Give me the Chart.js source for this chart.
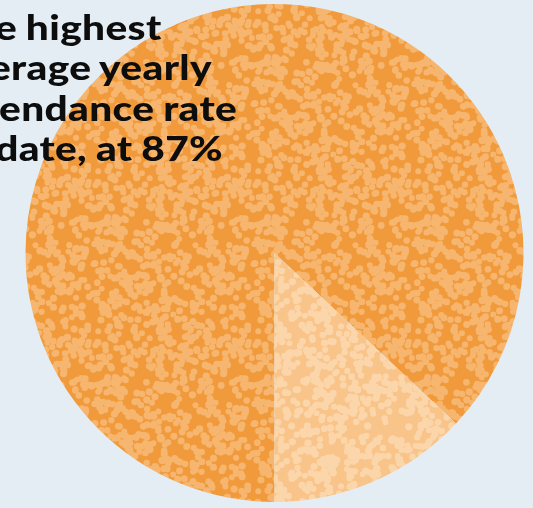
<!DOCTYPE html>
<html>
<head>
<meta charset="utf-8">
<script src="https://cdn.jsdelivr.net/npm/chart.js@4.4.1/dist/chart.umd.min.js"></script>
<style>
  html, body { margin: 0; padding: 0; background: #e3edf3; overflow: hidden; }
  #wrap { position: relative; width: 533px; height: 508px; }
  #headline {
    position: absolute; left: -40px; top: 6px;
    font-family: Lato, sans-serif; font-weight: 900; font-size: 35px;
    letter-spacing: 0.3px; word-spacing: -1px; line-height: 40.4px; color: #0d0d0d;
    white-space: nowrap; transform-origin: 0 0;
  }
</style>
</head>
<body>
<div id="wrap">
  <canvas id="pieChart" width="533" height="508"></canvas>
  <div id="headline"><span>Th</span>e highest<br><span>av</span>erage yearly<br><span id="cut">att</span><span id="ref">endance rate</span><br><span>to </span>date, at 87%</div>
</div>
<script>
const categories = ['Attended', 'Not attended'];
const attendance = [87, 13];
const baseColors = ['#f19a3b', '#f9c489'];
const speckColors = ['#f6b670', '#fcd6ab'];

// speckled fill: light blobs scattered on a flat base, tiled
function speckle(base, dot, seed) {
  const size = 160;
  const c = document.createElement('canvas');
  c.width = size; c.height = size;
  const g = c.getContext('2d');
  g.fillStyle = base;
  g.fillRect(0, 0, size, size);
  g.fillStyle = dot;
  let s = seed;
  const rnd = () => { s = (s * 1103515245 + 12345) % 2147483648; return s / 2147483648; };
  for (let i = 0; i < 560; i++) {
    const x = rnd() * size, y = rnd() * size, r = 2.9 + rnd() * 0.8;
    for (const dx of [-size, 0, size]) {
      for (const dy of [-size, 0, size]) {
        g.beginPath();
        g.arc(x + dx, y + dy, r, 0, Math.PI * 2);
        g.fill();
      }
    }
  }
  return g.createPattern(c, 'repeat');
}

const fills = baseColors.map((b, i) => speckle(b, speckColors[i], 7 + i * 31));

new Chart(document.getElementById('pieChart'), {
  type: 'pie',
  data: {
    labels: categories,
    datasets: [{
      data: attendance,
      backgroundColor: fills,
      borderWidth: 0
    }]
  },
  options: {
    responsive: false,
    animation: false,
    rotation: 180,
    layout: { padding: { top: 4, bottom: 6, left: 25, right: 9 } },
    plugins: {
      legend: { display: false },
      tooltip: { enabled: false }
    }
  }
});

// widen the heading so "endance rate" runs ~238px and starts just off the left edge
const head = document.getElementById('headline');
const sx = 238 / document.getElementById('ref').getBoundingClientRect().width;
const cutW = document.getElementById('cut').getBoundingClientRect().width * sx;
head.style.transform = 'scaleX(' + sx + ')';
head.style.left = (-1 - cutW) + 'px';
</script>
</body>
</html>
